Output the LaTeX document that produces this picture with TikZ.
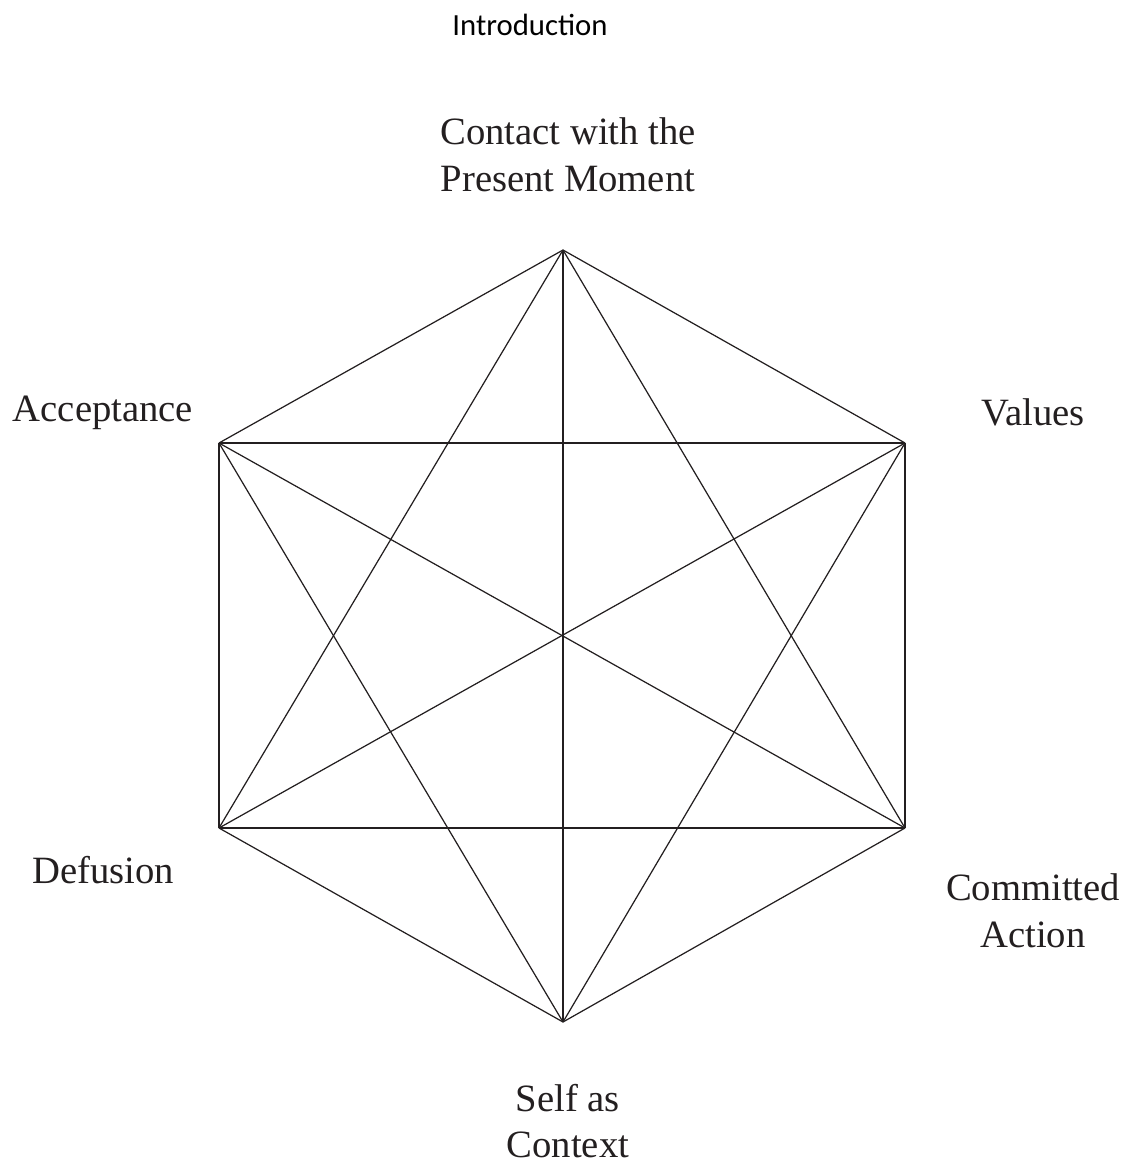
\documentclass[tikz,border=0pt]{standalone}
\usepackage{fontspec}
\setmainfont{Liberation Serif}
\newfontfamily\headfont{Carlito}
\usepackage{xcolor}
\usetikzlibrary{positioning}
\definecolor{inkgray}{HTML}{231F20}

\begin{document}
\begin{tikzpicture}[x=0.02cm,y=-0.02cm]

		\useasboundingbox (0,0) rectangle (1131,1167);

		\tikzset{edge/.style={line width=0.7pt,draw=inkgray},
			label/.style={inner sep=0pt,align=center,text=inkgray,font=\fontsize{22}{26.5}\selectfont}}

		\node[font=\headfont\fontsize{17.5}{20}\selectfont] (head) at (530,25) {Introduction};

		\coordinate (1) at (563,250);
		\coordinate (2) at (905,443);
		\coordinate (3) at (905,828);
		\coordinate (4) at (563,1022);
		\coordinate (5) at (219,828);
		\coordinate (6) at (219,443);

		\node[label] (contact) at (568,155) {Contact with the\\Present Moment};
		\node[label] (values) at (1033,412) {Values};
		\node[label] (committed) at (1033,911) {Committed\\Action};
		\node[label] (self) at (568,1121) {Self as\\Context};
		\node[label] (defusion) at (103,870) {Defusion};
		\node[label] (acceptance) at (103,413) {Acceptance};

		% hexagon
		\draw[edge] (1)--(2);
		\draw[edge] (2)--(3);
		\draw[edge] (3)--(4);
		\draw[edge] (4)--(5);
		\draw[edge] (5)--(6);
		\draw[edge] (6)--(1);

		% long diagonals
		\draw[edge] (1)--(4);
		\draw[edge] (2)--(5);
		\draw[edge] (3)--(6);

		% short diagonals
		\draw[edge] (1)--(3);
		\draw[edge] (1)--(5);
		\draw[edge] (2)--(4);
		\draw[edge] (2)--(6);
		\draw[edge] (3)--(5);
		\draw[edge] (4)--(6);

	\end{tikzpicture}
\end{document}
